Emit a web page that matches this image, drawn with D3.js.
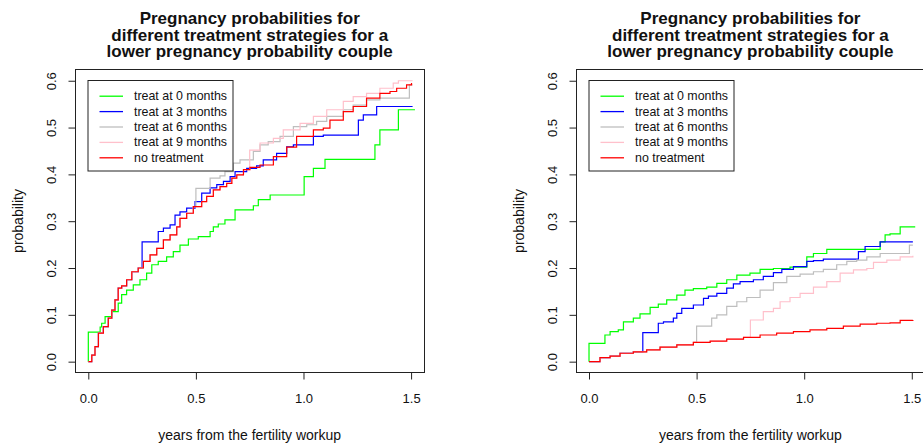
<!DOCTYPE html>
<html>
<head>
<meta charset="utf-8">
<script src="https://cdn.jsdelivr.net/npm/d3@7"></script>
<style>
  html, body { margin: 0; padding: 0; background: #fff; }
  svg { display: block; font-family: "Liberation Sans", Arial, "DejaVu Sans", sans-serif; }
</style>
</head>
<body>
<svg id="chart" width="923" height="446"></svg>
<script>
// Strategy names, switch times (years) and colours
const strategyLabels = ["treat at 0 months", "treat at 3 months", "treat at 6 months", "treat at 9 months", "no treatment"];
const strategyColors = ["#00FF00", "#0000FF", "#BEBEBE", "#FFC0CB", "#FF0000"];
const switchTimes = [0, 0.25, 0.5, 0.75];

const xTicks = [0, 0.5, 1.0, 1.5];
const yTicks = [0, 0.1, 0.2, 0.3, 0.4, 0.5, 0.6];

const titleLines = ["Pregnancy probabilities for", "different treatment strategies for a", "lower pregnancy probability couple"];
const xLabel = "years from the fertility workup";
const yLabel = "probability";

// Left panel: cumulative pregnancy probability [years, probability]
const leftNoTreatment = [[0,0],[0.016,0.014],[0.031,0.032],[0.047,0.061],[0.070,0.075],[0.093,0.093],[0.109,0.110],[0.124,0.132],[0.139,0.157],[0.155,0.162],[0.178,0.175],[0.202,0.192],[0.232,0.200],[0.256,0.214],[0.287,0.228],[0.318,0.242],[0.349,0.260],[0.380,0.271],[0.411,0.288],[0.426,0.306],[0.457,0.317],[0.488,0.331],[0.527,0.342],[0.550,0.353],[0.581,0.367],[0.612,0.374],[0.643,0.381],[0.667,0.392],[0.690,0.399],[0.721,0.410],[0.751,0.415],[0.798,0.420],[0.860,0.438],[0.922,0.458],[0.968,0.481],[1.046,0.495],[1.092,0.499],[1.123,0.516],[1.185,0.534],[1.231,0.545],[1.293,0.563],[1.355,0.573],[1.402,0.577],[1.433,0.584],[1.479,0.591],[1.502,0.595]];
const leftTreat0 = [[0,0],[0,0.063],[0.055,0.074],[0.062,0.082],[0.078,0.096],[0.109,0.107],[0.139,0.125],[0.155,0.143],[0.178,0.153],[0.209,0.164],[0.240,0.175],[0.271,0.189],[0.295,0.207],[0.325,0.214],[0.364,0.224],[0.395,0.235],[0.426,0.249],[0.465,0.262],[0.511,0.267],[0.566,0.278],[0.581,0.288],[0.604,0.294],[0.635,0.303],[0.682,0.324],[0.767,0.333],[0.790,0.346],[0.845,0.356],[1.003,0.395],[1.046,0.413],[1.100,0.432],[1.332,0.463],[1.355,0.495],[1.441,0.538],[1.518,0.538]];
const leftTreat3 = [[0.25,0.256],[0.325,0.278],[0.349,0.285],[0.380,0.292],[0.403,0.313],[0.426,0.320],[0.457,0.328],[0.496,0.342],[0.527,0.360],[0.566,0.371],[0.597,0.378],[0.628,0.385],[0.659,0.395],[0.682,0.406],[0.736,0.413],[0.782,0.418],[0.813,0.431],[0.875,0.445],[0.922,0.459],[0.953,0.463],[1.046,0.481],[1.092,0.484],[1.255,0.516],[1.278,0.527],[1.340,0.545],[1.507,0.545]];
const leftTreat6 = [[0.5,0.370],[0.566,0.392],[0.612,0.397],[0.635,0.406],[0.674,0.424],[0.705,0.431],[0.767,0.449],[0.798,0.463],[0.836,0.470],[0.891,0.481],[0.953,0.502],[1.015,0.506],[1.061,0.513],[1.108,0.524],[1.185,0.538],[1.231,0.548],[1.293,0.559],[1.355,0.563],[1.492,0.591],[1.507,0.591]];
const leftTreat9 = [[0.75,0.452],[0.798,0.467],[0.860,0.477],[0.906,0.495],[0.984,0.509],[1.046,0.524],[1.108,0.538],[1.185,0.556],[1.231,0.566],[1.293,0.573],[1.355,0.584],[1.417,0.595],[1.441,0.600],[1.507,0.600]];

// Right panel
const rightNoTreatment = [[0,0],[0.051,0.0085],[0.098,0.012],[0.144,0.018],[0.206,0.021],[0.268,0.025],[0.330,0.031],[0.408,0.036],[0.485,0.041],[0.563,0.044],[0.640,0.048],[0.718,0.052],[0.795,0.057],[0.872,0.061],[0.950,0.064],[1.027,0.068],[1.105,0.071],[1.182,0.076],[1.260,0.080],[1.337,0.082],[1.399,0.083],[1.446,0.088],[1.505,0.089]];
const rightTreat0 = [[0,0],[0,0.039],[0.074,0.057],[0.098,0.064],[0.136,0.068],[0.160,0.085],[0.206,0.093],[0.237,0.102],[0.284,0.116],[0.322,0.123],[0.361,0.132],[0.408,0.142],[0.446,0.153],[0.485,0.156],[0.547,0.159],[0.594,0.167],[0.640,0.175],[0.687,0.185],[0.748,0.189],[0.795,0.197],[0.857,0.199],[0.934,0.202],[1.012,0.224],[1.043,0.231],[1.105,0.240],[1.353,0.256],[1.376,0.271],[1.399,0.273],[1.446,0.288],[1.516,0.288]];
const rightTreat3 = [[0.25,0.062],[0.322,0.082],[0.346,0.085],[0.392,0.093],[0.408,0.103],[0.431,0.114],[0.485,0.121],[0.532,0.135],[0.555,0.140],[0.594,0.146],[0.640,0.157],[0.671,0.166],[0.702,0.171],[0.764,0.175],[0.810,0.182],[0.857,0.190],[0.896,0.197],[0.950,0.203],[1.012,0.214],[1.043,0.216],[1.089,0.219],[1.252,0.235],[1.283,0.246],[1.353,0.256],[1.505,0.256]];
const rightTreat6 = [[0.5,0.076],[0.570,0.093],[0.594,0.100],[0.640,0.118],[0.687,0.128],[0.733,0.137],[0.795,0.153],[0.857,0.169],[0.919,0.182],[0.981,0.187],[1.043,0.192],[1.089,0.197],[1.151,0.207],[1.198,0.214],[1.244,0.217],[1.291,0.224],[1.353,0.231],[1.489,0.249],[1.505,0.249]];
const rightTreat9 = [[0.75,0.089],[0.810,0.107],[0.857,0.114],[0.888,0.128],[0.934,0.137],[0.981,0.146],[1.043,0.159],[1.105,0.171],[1.167,0.189],[1.229,0.196],[1.291,0.199],[1.322,0.212],[1.384,0.217],[1.446,0.224],[1.505,0.226]];

const svg = d3.select("#chart");

// A treatment curve follows the untreated curve until its switch time
function withPrefix(none, own, start) {
  if (start <= 0) return own;
  return none.filter(d => d[0] < start).concat(own);
}

function drawPanel(cfg) {
  const x = d3.scaleLinear().domain([-0.06, 1.56]).range([cfg.left, cfg.left + 348.6]);
  const y = d3.scaleLinear().domain([-0.024, 0.624]).range([372.9, 69.5]);
  const g = svg.append("g");

  const bx = Math.round(x.range()[0]) + 0.5;
  const bx2 = Math.round(x.range()[1]) + 0.5;
  const by = 69.5, by2 = 372.5;

  // Plot lines
  const treats = cfg.treats.map((pts, i) => withPrefix(cfg.none, pts, switchTimes[i]));
  const series = treats.concat([cfg.none]);
  const line = d3.line().x(d => x(d[0])).y(d => y(d[1])).curve(d3.curveStepAfter);
  g.selectAll("path.curve").data(series).join("path")
    .attr("class", "curve")
    .attr("d", line)
    .attr("fill", "none")
    .attr("stroke", (d, i) => strategyColors[i])
    .attr("stroke-width", 1.2);

  // Box
  g.append("rect").attr("x", bx).attr("y", by).attr("width", bx2 - bx).attr("height", by2 - by)
    .attr("fill", "none").attr("stroke", "#222").attr("stroke-width", 1);

  // X axis
  const xa = g.append("g").attr("transform", `translate(0,${by2})`)
    .call(d3.axisBottom(x).tickValues(xTicks).tickSize(7).tickFormat(d3.format(".1f")));
  xa.select(".domain").remove();
  xa.selectAll(".tick line").attr("stroke", "#222");
  xa.selectAll(".tick text").attr("y", 30).attr("dy", null)
    .attr("font-size", 13).attr("fill", "#111").attr("font-family", null);

  // Y axis, labels parallel to the axis
  const ya = g.append("g").attr("transform", `translate(${bx},0)`)
    .call(d3.axisLeft(y).tickValues(yTicks).tickSize(7).tickFormat(d3.format(".1f")));
  ya.select(".domain").remove();
  ya.selectAll(".tick line").attr("stroke", "#222");
  ya.selectAll(".tick text").attr("x", 0).attr("y", -20).attr("dy", null)
    .attr("transform", "rotate(-90)").attr("text-anchor", "middle")
    .attr("font-size", 13).attr("fill", "#111").attr("font-family", null);

  // Axis titles
  const cx = (x.range()[0] + x.range()[1]) / 2;
  g.append("text").attr("x", cx).attr("y", 440).attr("text-anchor", "middle")
    .attr("font-size", 14).attr("fill", "#111").text(xLabel);
  g.append("text").attr("transform", `translate(${bx - 53},221) rotate(-90)`)
    .attr("text-anchor", "middle").attr("font-size", 14).attr("fill", "#111").text(yLabel);

  // Title
  g.append("text").attr("text-anchor", "middle").attr("font-size", 17).attr("font-weight", "bold")
    .attr("fill", "#111")
    .selectAll("tspan").data(titleLines).join("tspan")
    .attr("x", cx).attr("y", (d, i) => 24 + i * 16.6).text(d => d);

  // Legend
  const lx = bx + 12.5, ly = 80.5;
  const lg = g.append("g");
  lg.append("rect").attr("x", lx).attr("y", ly).attr("width", 145).attr("height", 90.5)
    .attr("fill", "#fff").attr("stroke", "#222").attr("stroke-width", 1);
  const rows = lg.selectAll("g.row").data(strategyLabels).join("g").attr("class", "row")
    .attr("transform", (d, i) => `translate(${lx},${95.7 + i * 15.4})`);
  rows.append("line").attr("x1", 11.5).attr("x2", 35).attr("y1", 0.5).attr("y2", 0.5)
    .attr("stroke", (d, i) => strategyColors[i]).attr("stroke-width", 1.3);
  rows.append("text").attr("x", 46).attr("y", 4.4).attr("font-size", 12.4).attr("fill", "#111").text(d => d);
}

drawPanel({ left: 75.4, none: leftNoTreatment, treats: [leftTreat0, leftTreat3, leftTreat6, leftTreat9] });
drawPanel({ left: 576.1, none: rightNoTreatment, treats: [rightTreat0, rightTreat3, rightTreat6, rightTreat9] });
</script>
</body>
</html>
